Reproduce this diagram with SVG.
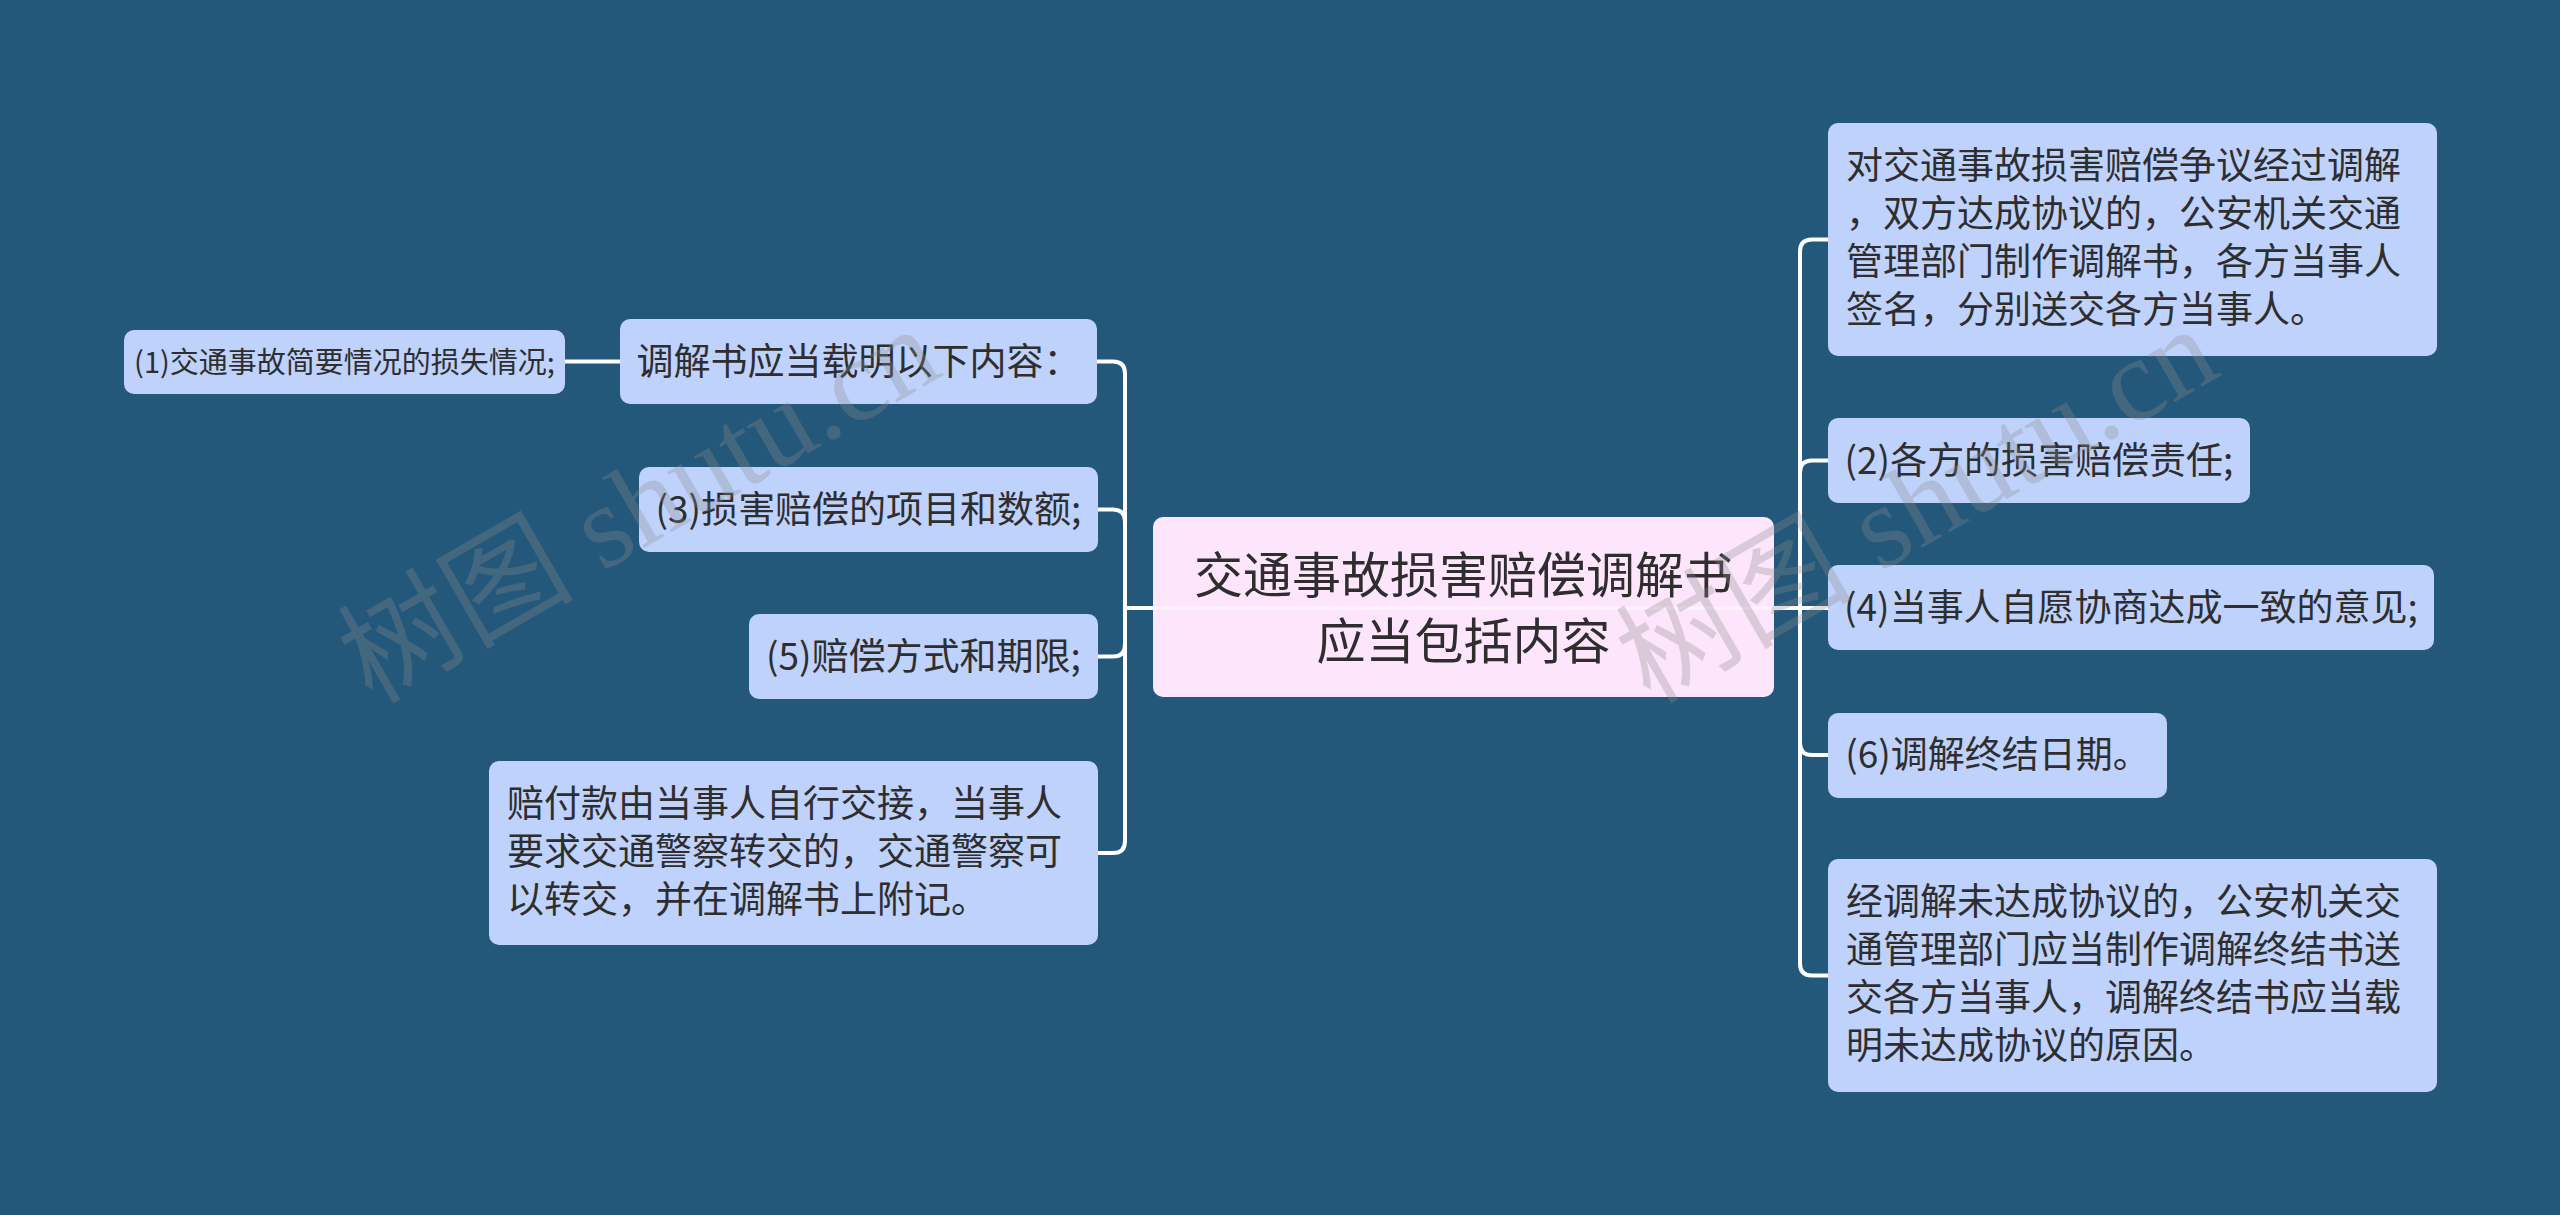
<svg xmlns="http://www.w3.org/2000/svg" width="2560" height="1215" viewBox="0 0 2560 1215">
<style>
.bg{fill:#23587a}
.nd{fill:#bfd2fc}
.ct{fill:#fde6fb}
.t{font-family:"Noto Sans CJK SC","Noto Sans",sans-serif;fill:#2e2e2e}
.s37{font-size:37px}
.s29{font-size:29px}
.s49{font-size:49px}
.mid{text-anchor:middle}
.cn{fill:none;stroke:#ffffff;stroke-width:4;stroke-linecap:round}
.wm{font-family:"Liberation Serif","Noto Sans CJK SC",serif;font-size:118px;fill:#8a8a8a;fill-opacity:0.3}
</style>
<rect class="bg" x="0" y="0" width="2560" height="1215"/>
<g id="connectors">
<path class="cn" d="M620,361.5 H565"/>
<path class="cn" d="M1153,608 H1125 V373.5 Q1125,361.5 1113,361.5 H1097"/>
<path class="cn" d="M1125,608 V521.5 Q1125,509.5 1113,509.5 H1098"/>
<path class="cn" d="M1125,608 V644.5 Q1125,656.5 1113,656.5 H1098"/>
<path class="cn" d="M1125,608 V841 Q1125,853 1113,853 H1098"/>
<path class="cn" d="M1774,608 H1828"/>
<path class="cn" d="M1800,608 V251.5 Q1800,239.5 1812,239.5 H1828"/>
<path class="cn" d="M1800,608 V472.5 Q1800,460.5 1812,460.5 H1828"/>
<path class="cn" d="M1800,608 V743 Q1800,755 1812,755 H1828"/>
<path class="cn" d="M1800,608 V963.5 Q1800,975.5 1812,975.5 H1828"/>
</g>
<g id="node-center">
<rect class="ct" x="1153" y="517" width="621" height="180" rx="10"/>
<line x1="1153" y1="608" x2="1774" y2="608" stroke="#ffffff" stroke-width="3" stroke-opacity="0.6"/>
<text class="t s49 mid" x="1463.5" y="593">交通事故损害赔偿调解书</text>
<text class="t s49 mid" x="1463.5" y="659">应当包括内容</text>
</g>
<g id="node-l1">
<rect class="nd" x="620" y="319" width="477" height="85" rx="10"/>
<text class="t s37 mid" x="858.5" y="375">调解书应当载明以下内容：</text>
</g>
<g id="node-l1-1">
<rect class="nd" x="124" y="330" width="441" height="64" rx="10"/>
<text class="t s29 mid" x="344.5" y="373">(1)交通事故简要情况的损失情况;</text>
</g>
<g id="node-l2">
<rect class="nd" x="639" y="467" width="459" height="85" rx="10"/>
<text class="t s37 mid" x="868.5" y="523">(3)损害赔偿的项目和数额;</text>
</g>
<g id="node-l3">
<rect class="nd" x="749" y="614" width="349" height="85" rx="10"/>
<text class="t s37 mid" x="923.5" y="670">(5)赔偿方式和期限;</text>
</g>
<g id="node-l4">
<rect class="nd" x="489" y="761" width="609" height="184" rx="10"/>
<text class="t s37" x="507" y="817">赔付款由当事人自行交接，当事人</text>
<text class="t s37" x="507" y="865">要求交通警察转交的，交通警察可</text>
<text class="t s37" x="507" y="913">以转交，并在调解书上附记。</text>
</g>
<g id="node-r1">
<rect class="nd" x="1828" y="123" width="609" height="233" rx="10"/>
<text class="t s37" x="1846" y="179">对交通事故损害赔偿争议经过调解</text>
<text class="t s37" x="1846" y="227">，双方达成协议的，公安机关交通</text>
<text class="t s37" x="1846" y="275">管理部门制作调解书，各方当事人</text>
<text class="t s37" x="1846" y="323">签名，分别送交各方当事人。</text>
</g>
<g id="node-r2">
<rect class="nd" x="1828" y="418" width="422" height="85" rx="10"/>
<text class="t s37 mid" x="2039" y="474">(2)各方的损害赔偿责任;</text>
</g>
<g id="node-r3">
<rect class="nd" x="1828" y="565" width="606" height="85" rx="10"/>
<text class="t s37 mid" x="2131" y="621">(4)当事人自愿协商达成一致的意见;</text>
</g>
<g id="node-r4">
<rect class="nd" x="1828" y="713" width="339" height="85" rx="10"/>
<text class="t s37 mid" x="1997.5" y="768">(6)调解终结日期。</text>
</g>
<g id="node-r5">
<rect class="nd" x="1828" y="859" width="609" height="233" rx="10"/>
<text class="t s37" x="1846" y="915">经调解未达成协议的，公安机关交</text>
<text class="t s37" x="1846" y="963">通管理部门应当制作调解终结书送</text>
<text class="t s37" x="1846" y="1011">交各方当事人，调解终结书应当载</text>
<text class="t s37" x="1846" y="1059">明未达成协议的原因。</text>
</g>
<g id="watermarks">
<text class="wm" x="372" y="705" transform="rotate(-30 372 705)">树图 shutu.cn</text>
<text class="wm" x="1650" y="705" transform="rotate(-30 1650 705)">树图 shutu.cn</text>
</g>
</svg>
